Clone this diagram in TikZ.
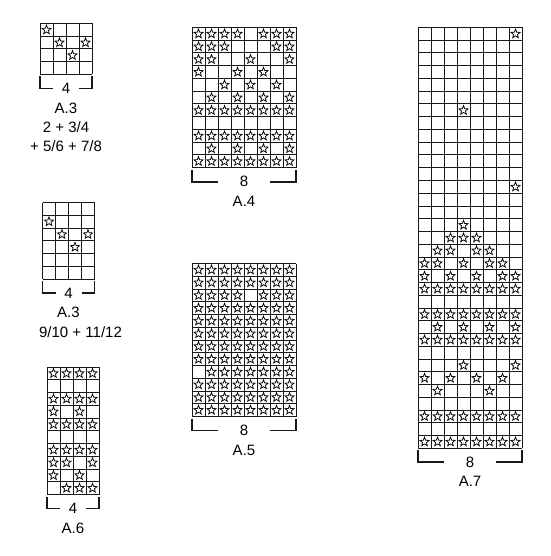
\documentclass[tikz,border=0pt]{standalone}
\usepackage{fontspec}
\setmainfont{Liberation Sans}
\usetikzlibrary{shapes.geometric,positioning}

% grid of #1 columns and #2 rows, in cell units
\newcommand{\knitgrid}[2]{%
  \foreach \i in {0,...,#1} \draw[gridline] (\i,0) -- (\i,#2);
  \foreach \j in {0,...,#2} \draw[gridline] (0,\j) -- (#1,\j);}
% stars: #1 chart name, #2 list row/{columns}
\newcommand{\knitstars}[2]{%
  \foreach \r/\cs in {#2} {\foreach \c in \cs {\node[st] (#1-\r-\c) at (\c-0.5,\r-0.5) {};}}}

\begin{document}
\begin{tikzpicture}[
    x=1pt, y=-1pt,
    gridline/.style={line width=1pt, black!90},
    st/.style={star, star points=5, star point ratio=2.3, draw=black, line width=0.75pt, minimum size=9.5pt, inner sep=0pt},
    brace/.style={line width=1.8pt, black!90},
    num/.style={font=\fontsize{15}{18}\selectfont, inner sep=0pt, text height=10.5pt, text depth=2.5pt},
    lbl/.style={font=\fontsize{15}{18}\selectfont, inner sep=0pt, text height=10.5pt, text depth=2.5pt}
]
\useasboundingbox (0,0) rectangle (550,556);

% A.3 (top)
\begin{scope}[shift={(40,23.5)}, x=13pt, y=-12.75pt]
\knitgrid{4}{4}
\knitstars{a3a}{1/{1}, 2/{2,4}, 3/{3}}
\coordinate (a3asw) at (0,4);
\coordinate (a3amid) at (2,4);
\coordinate (a3ase) at (4,4);
\end{scope}
\node[num, below=8.5pt of a3amid] (a3anum) {4};
\node[lbl, below=6pt of a3anum] (a3aname) {A.3};
\node[lbl, below=6pt of a3aname] (a3arows) {2 + 3/4};
\node[lbl, below=6pt of a3arows] (a3arows2) {+ 5/6 + 7/8};
\draw[brace] ([yshift=-2pt]a3asw) -- ++(0,12) -- ++(13,0);
\draw[brace] ([yshift=-2pt]a3ase) -- ++(0,12) -- ++(-13,0);

% A.3 (middle)
\begin{scope}[shift={(42.5,202.5)}, x=13pt, y=-12.75pt]
\knitgrid{4}{6}
\knitstars{a3b}{2/{1}, 3/{2,4}, 4/{3}}
\coordinate (a3bsw) at (0,6);
\coordinate (a3bmid) at (2,6);
\coordinate (a3bse) at (4,6);
\end{scope}
\node[num, below=8.5pt of a3bmid] (a3bnum) {4};
\node[lbl, below=6pt of a3bnum] (a3bname) {A.3};
\node[lbl, below=6pt of a3bname, xshift=12pt] (a3brows) {9/10 + 11/12};
\draw[brace] ([yshift=-2pt]a3bsw) -- ++(0,12) -- ++(13,0);
\draw[brace] ([yshift=-2pt]a3bse) -- ++(0,12) -- ++(-13,0);

% A.6
\begin{scope}[shift={(47,367)}, x=13pt, y=-12.75pt]
\knitgrid{4}{10}
\knitstars{a6}{1/{1,...,4}, 3/{1,...,4}, 4/{1,3}, 5/{1,...,4}, 7/{1,...,4}, 8/{1,2,4}, 9/{1,3}, 10/{2,3,4}}
\coordinate (a6sw) at (0,10);
\coordinate (a6mid) at (2,10);
\coordinate (a6se) at (4,10);
\end{scope}
\node[num, below=8.5pt of a6mid] (a6num) {4};
\node[lbl, below=6pt of a6num] (a6name) {A.6};
\draw[brace] ([yshift=-2pt]a6sw) -- ++(0,12) -- ++(13,0);
\draw[brace] ([yshift=-2pt]a6se) -- ++(0,12) -- ++(-13,0);

% A.4
\begin{scope}[shift={(192,27.5)}, x=13pt, y=-12.75pt]
\knitgrid{8}{11}
\knitstars{a4}{1/{1,2,3,4,6,7,8}, 2/{1,2,3,7,8}, 3/{1,2,5,8}, 4/{1,4,6}, 5/{3,5,7}, 6/{2,4,6,8}, 7/{1,...,8}, 9/{1,...,8}, 10/{2,4,6,8}, 11/{1,...,8}}
\coordinate (a4sw) at (0,11);
\coordinate (a4mid) at (4,11);
\coordinate (a4se) at (8,11);
\end{scope}
\node[num, below=8.5pt of a4mid] (a4num) {8};
\node[lbl, below=6pt of a4num] (a4name) {A.4};
\draw[brace] ([yshift=-2pt]a4sw) -- ++(0,12) -- ++(26,0);
\draw[brace] ([yshift=-2pt]a4se) -- ++(0,12) -- ++(-26,0);

% A.5
\begin{scope}[shift={(192,263.5)}, x=13pt, y=-12.75pt]
\knitgrid{8}{12}
\knitstars{a5}{1/{1,...,8}, 2/{1,...,8}, 3/{1,2,3,4,6,7,8}, 4/{1,...,8}, 5/{1,...,8}, 6/{1,...,8}, 7/{1,...,8}, 8/{1,...,8}, 9/{2,...,8}, 10/{1,...,8}, 11/{1,...,8}, 12/{1,...,8}}
\coordinate (a5sw) at (0,12);
\coordinate (a5mid) at (4,12);
\coordinate (a5se) at (8,12);
\end{scope}
\node[num, below=8.5pt of a5mid] (a5num) {8};
\node[lbl, below=6pt of a5num] (a5name) {A.5};
\draw[brace] ([yshift=-2pt]a5sw) -- ++(0,12) -- ++(26,0);
\draw[brace] ([yshift=-2pt]a5se) -- ++(0,12) -- ++(-26,0);

% A.7
\begin{scope}[shift={(418,27.5)}, x=13pt, y=-12.75pt]
\knitgrid{8}{33}
\knitstars{a7}{1/{8}, 7/{4}, 13/{8}, 16/{4}, 17/{3,4,5}, 18/{2,3,5,6}, 19/{1,2,4,6,7}, 20/{1,3,5,7,8}, 21/{1,...,8}, 23/{1,...,8}, 24/{2,4,6,8}, 25/{1,...,8}, 27/{4,8}, 28/{1,3,5,7}, 29/{2,6}, 31/{1,...,8}, 33/{1,...,8}}
\coordinate (a7sw) at (0,33);
\coordinate (a7mid) at (4,33);
\coordinate (a7se) at (8,33);
\end{scope}
\node[num, below=8.5pt of a7mid] (a7num) {8};
\node[lbl, below=6pt of a7num] (a7name) {A.7};
\draw[brace] ([yshift=-2pt]a7sw) -- ++(0,12) -- ++(26,0);
\draw[brace] ([yshift=-2pt]a7se) -- ++(0,12) -- ++(-26,0);
\end{tikzpicture}
\end{document}
